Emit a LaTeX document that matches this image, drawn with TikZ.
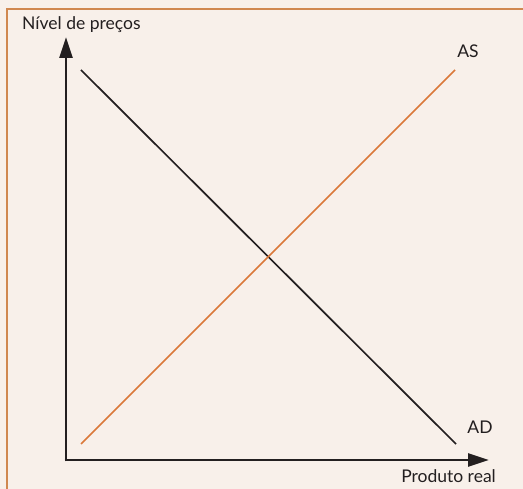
\documentclass[tikz,border=0pt]{standalone}
\usepackage{fontspec}
\setmainfont{Lato}
\usetikzlibrary{arrows.meta}
\definecolor{bg}{HTML}{F8F0EA}
\definecolor{frame}{HTML}{D08850}
\definecolor{asline}{HTML}{DA783A}
\definecolor{ink}{HTML}{231F20}
\begin{document}
\begin{tikzpicture}[x=1pt,y=-1pt,
  axis/.style={draw=ink,line width=2.6pt,-{Triangle[length=21pt,width=13pt]}},
  curve/.style={line width=1.7pt},
  lbl/.style={font=\fontsize{17.5}{20}\selectfont,text=ink,inner sep=0pt}]
\fill[bg] (0,0) rectangle (523,489);
\useasboundingbox (0,0) rectangle (523,489);
\draw[frame,line width=2pt] (7,489) -- (7,9.5) -- (523,9.5);
\coordinate (ytop) at (66,37);
\coordinate (xend) at (489,460);
\draw[axis] (66,461.3) -- (ytop);
\draw[axis] (64.7,460) -- (xend);
\coordinate (ad1) at (81,70);
\coordinate (ad2) at (456,444);
\coordinate (as1) at (81,444);
\coordinate (as2) at (455,70);
\draw[curve,draw=ink] (ad1) -- (ad2);
\draw[curve,draw=asline] (as1) -- (as2);
\node[lbl,anchor=west] (ylab) at (22,25) {Nível de preços};
\node[lbl] (aslab) at (468,51) {AS};
\node[lbl] (adlab) at (480,427) {AD};
\node[lbl,anchor=east] (xlab) at (496,476) {Produto real};
\end{tikzpicture}
\end{document}
